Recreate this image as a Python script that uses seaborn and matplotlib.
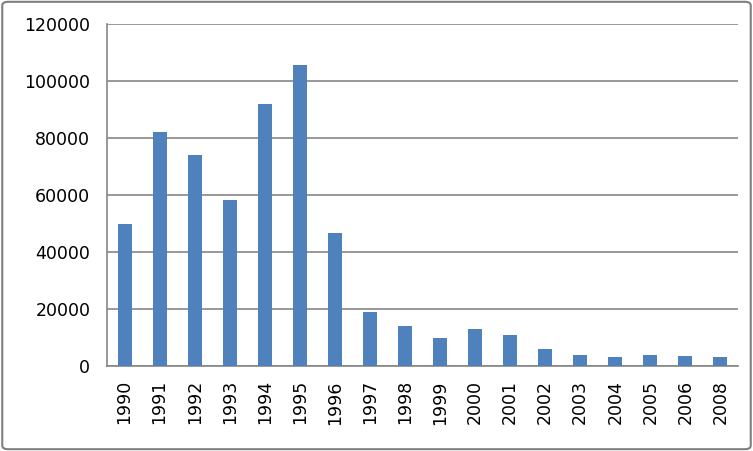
import matplotlib
matplotlib.use("Agg")
import matplotlib.pyplot as plt
import seaborn as sns
import pandas as pd
from matplotlib.patches import FancyBboxPatch

years = ["1990", "1991", "1992", "1993", "1994", "1995", "1996", "1997", "1998",
         "1999", "2000", "2001", "2002", "2003", "2004", "2005", "2006", "2008"]
values = [50000, 82000, 74000, 58200, 92000, 105800, 46700, 19000, 14100,
          9900, 13050, 10950, 6050, 3950, 3300, 3950, 3600, 3300]
yticks = [0, 20000, 40000, 60000, 80000, 100000, 120000]

df = pd.DataFrame({"year": years, "value": values})

sns.set_style("white")
plt.rcParams["font.family"] = ["DejaVu Sans"]

fig = plt.figure(figsize=(7.53, 4.51), dpi=100)
ax = fig.add_axes([107 / 753, 1 - 366.3 / 451, (738 - 107) / 753, (366.3 - 24) / 451])

sns.barplot(data=df, x="year", y="value", color="#4F81BD", width=0.4,
            saturation=1, ax=ax, zorder=3, linewidth=0, edgecolor="none")

gray = "#868686"
ax.set_ylim(0, 120000)
ax.set_xlim(-0.5, len(years) - 0.5)
ax.set_yticks(yticks)
ax.set_yticklabels([str(v) for v in yticks], fontsize=12.5, color="#000000")
ax.yaxis.grid(True, color=gray, linewidth=1.2, zorder=0)
ax.set_axisbelow(True)
ax.set_xlabel("")
ax.set_ylabel("")

ax.set_xticks(range(len(years)))
ax.set_xticklabels(years, rotation=90, fontsize=12.5, color="#000000")
ax.tick_params(axis="x", which="major", length=0, pad=10)
ax.set_xticks([i - 0.5 for i in range(len(years) + 1)], minor=True)
ax.tick_params(axis="x", which="minor", length=7, width=1.2, color=gray, direction="out")
ax.tick_params(axis="y", which="major", length=6, width=1.2, color=gray, direction="out", pad=6)

for s in ["top", "right"]:
    ax.spines[s].set_visible(False)
for s in ["left", "bottom"]:
    ax.spines[s].set_color(gray)
    ax.spines[s].set_linewidth(1.2)

border = FancyBboxPatch((0.003, 0.004), 0.994, 0.992, boxstyle="round,pad=0,rounding_size=0.008",
                        transform=fig.transFigure, fill=False, edgecolor="#7f7f7f",
                        linewidth=1.5, zorder=10)
fig.patches.append(border)

fig.savefig("out.png", dpi=100, facecolor="white")
